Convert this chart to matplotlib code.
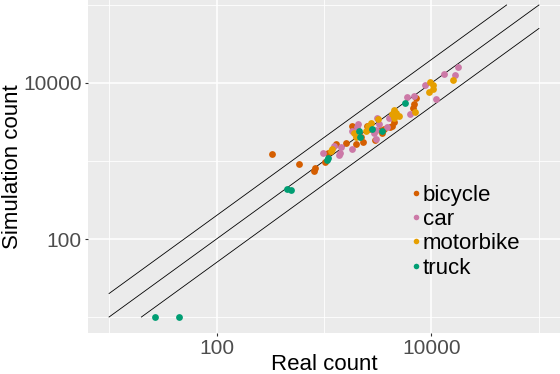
import numpy as np
import matplotlib.pyplot as plt
from matplotlib.lines import Line2D

# real vs simulated counts per vehicle class
bicycle_real = [327, 581, 824, 807, 1099, 1305, 1593, 1974, 2330, 3013, 1839, 2198,
                2537, 2627, 3327, 3500, 3624, 4093, 4434, 4274, 6808, 6750, 7112, 1016]
bicycle_sim = [1219, 916, 806, 745, 1285, 1676, 1687, 1652, 1767, 1886, 2837, 2049,
               2811, 2548, 2497, 2318, 2610, 2754, 3135, 2811, 5379, 4739, 6424, 979]

car_real = [987, 1240, 1410, 1371, 1432, 1839, 2075, 2018, 1812, 3145, 3033, 2924,
            3033, 3897, 4036, 5938, 6808, 6327, 8737, 11066, 13058, 16520, 17510, 3258]
car_sim = [1248, 1572, 1248, 1177, 1499, 1413, 2955, 2705, 2445, 3527, 2461, 2265,
           1897, 2754, 3527, 6653, 6714, 4030, 9350, 6144, 12933, 12677, 15960, 2979]

motorbike_real = [1167, 1197, 1905, 1974, 2446, 2723, 2570, 3213, 4274, 4434, 4660,
                  5000, 4491, 6956, 9525, 9727, 10240, 10380, 15730]
motorbike_sim = [1324, 1413, 2252, 2061, 2424, 3088, 2811, 3424, 3970, 4506, 4089,
                 3808, 3527, 4285, 7780, 10360, 9420, 8430, 10860]

truck_real = [26.6, 44.9, 456, 490, 1076, 1094, 2128, 2153, 2825, 3451, 5714]
truck_sim = [10, 10, 434, 421, 1030, 1099, 2389, 2061, 2557, 2438, 5495]

labels = ["bicycle", "car", "motorbike", "truck"]
colors = ["#D55E00", "#CC79A7", "#E69F00", "#009E73"]

# reference lines y = 2x, y = x, y = x/2 within [10, 1e5]
line_x = np.array([10, 1e5])
factors = [2, 1, 0.5]

plt.rcParams['font.family'] = ['Liberation Sans', 'DejaVu Sans']

fig = plt.figure(figsize=(5.6, 3.74), dpi=100)
ax = fig.add_axes([88/560, 1-333/374, 1-88/560, 333/374])
ax.set_facecolor("#EBEBEB")
ax.set_xscale("log")
ax.set_yscale("log")
ax.set_xlim(10**0.804, 10**5.196)
ax.set_ylim(10**0.795, 10**5.064)

ax.set_xticks([100, 10000])
ax.set_xticklabels(["100", "10000"])
ax.set_yticks([100, 10000])
ax.set_yticklabels(["100", "10000"])
ax.set_xticks([10, 1000, 100000], minor=True)
ax.set_yticks([10, 1000, 100000], minor=True)
ax.tick_params(which="minor", length=0, labelbottom=False, labelleft=False)
ax.tick_params(which="major", length=2.5, width=0.8, color="#333333",
               labelsize=15, labelcolor="#4D4D4D", pad=2)
ax.grid(which="major", color="white", linewidth=1.1)
ax.grid(which="minor", color="white", linewidth=0.6)
ax.set_axisbelow(True)
for s in ax.spines.values():
    s.set_visible(False)

for f in factors:
    # keep the segment inside [10, 1e5] on both axes
    lx = np.clip(line_x, 10 / f, 1e5 / f)
    ax.plot(lx, lx * f, color="black", linewidth=0.6)

series = [(bicycle_real, bicycle_sim), (car_real, car_sim),
          (motorbike_real, motorbike_sim), (truck_real, truck_sim)]
for (xr, ys), c in zip(series, colors):
    ax.scatter(xr, ys, s=24, color=c, linewidths=0, zorder=3)

ax.set_xlabel("Real count", fontsize=16)
ax.set_ylabel("Simulation count", fontsize=16)
ax.xaxis.set_label_coords(0.5, -0.064)
ax.yaxis.set_label_coords(-0.137, 0.5)

handles = [Line2D([], [], marker="o", linestyle="", markersize=4, color=c,
                  markeredgewidth=0) for c in colors]
fig.legend(handles, labels, loc="center left", bbox_to_anchor=(412.5/560, 1-231.5/374),
           frameon=False, fontsize=16, handlelength=0.3, handletextpad=0.16,
           labelspacing=0.15, borderpad=0, borderaxespad=0)

fig.savefig("out.png", dpi=100)
